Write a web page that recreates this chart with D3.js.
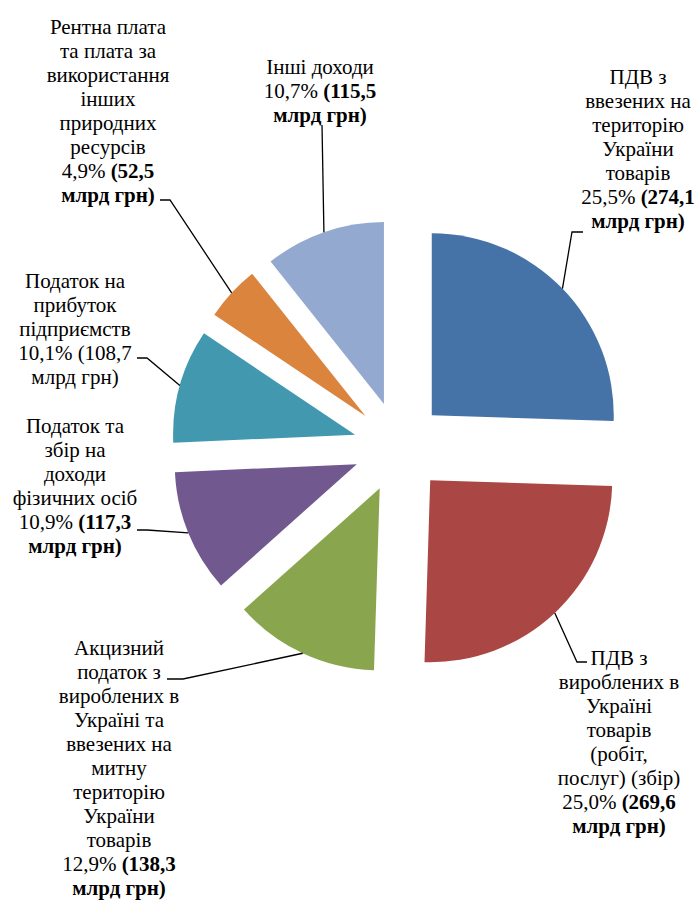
<!DOCTYPE html>
<html>
<head>
<meta charset="utf-8">
<script src="https://cdn.jsdelivr.net/npm/d3@7"></script>
<style>
  body { margin: 0; background: #fff; }
</style>
</head>
<body>
<svg id="chart" width="696" height="904"></svg>
<script>
// categories, clockwise from 12 o'clock
const names = [
  ['ПДВ з', 'ввезених на', 'територію', 'України', 'товарів'],
  ['ПДВ з', 'вироблених в', 'Україні', 'товарів', '(робіт,', 'послуг) (збір)'],
  ['Акцизний', 'податок з', 'вироблених в', 'Україні та', 'ввезених на', 'митну', 'територію', 'України', 'товарів'],
  ['Податок та', 'збір на', 'доходи', 'фізичних осіб'],
  ['Податок на', 'прибуток', 'підприємств'],
  ['Рентна плата', 'та плата за', 'використання', 'інших', 'природних', 'ресурсів'],
  ['Інші доходи']
];
const shares = [25.5, 25.0, 12.9, 10.9, 10.1, 4.9, 10.7];   // %
const amounts = [274.1, 269.6, 138.3, 117.3, 108.7, 52.5, 115.5]; // млрд грн
const boldAmount = [true, true, true, true, false, true, true];
const colors = ['#4573a7', '#aa4643', '#89a54e', '#71588f', '#4198af', '#db843d', '#93a9cf'];

// label placement: centre x, first-line middle y, leader elbow
const labelPos = [
  { x: 638, y: 77, elbow: [[583, 232], [572, 232]] },
  { x: 619, y: 658, elbow: [[587, 662], [577, 662]] },
  { x: 119, y: 648, elbow: [[167, 679], [183, 679]] },
  { x: 75, y: 426, elbow: [[137, 530], [147, 530]] },
  { x: 75, y: 281, elbow: [[137, 358], [147, 358]] },
  { x: 108, y: 27, elbow: [[160, 200], [170, 200]] },
  { x: 320, y: 67, elbow: [[322, 125]] }
];

const svg = d3.select('#chart')
  .attr('font-family', "'Liberation Serif', 'Times New Roman', Times, serif")
  .attr('font-size', 21);
const c = { x: 399, y: 447 };
const r = 182;
const explode = 45.6;
const lh = 24;

const fmt = v => d3.format('.1f')(v).replace('.', ',');

const pie = d3.pie().sort(null).value(d => d.share);
const arc = d3.arc().innerRadius(0).outerRadius(r);

const data = names.map((n, i) => ({
  lines: n, share: shares[i], amount: amounts[i], bold: boldAmount[i],
  color: colors[i], pos: labelPos[i]
}));
const arcs = pie(data);

function offset(a) {
  const m = (a.startAngle + a.endAngle) / 2;
  return [explode * Math.sin(m), -explode * Math.cos(m)];
}

const g = svg.append('g').attr('transform', `translate(${c.x},${c.y})`);

g.selectAll('path.slice')
  .data(arcs)
  .enter()
  .append('path')
  .attr('class', 'slice')
  .attr('fill', a => a.data.color)
  .attr('transform', a => `translate(${offset(a)})`)
  .attr('d', arc);

// leader lines: from label elbow to the outer arc at mid angle
svg.selectAll('polyline.leader')
  .data(arcs)
  .enter()
  .append('polyline')
  .attr('class', 'leader')
  .attr('fill', 'none')
  .attr('stroke', '#000')
  .attr('stroke-width', 1.3)
  .attr('points', (a) => {
    const m = (a.startAngle + a.endAngle) / 2;
    const [ox, oy] = offset(a);
    const end = [c.x + ox + r * Math.sin(m), c.y + oy - r * Math.cos(m)];
    return a.data.pos.elbow.concat([end]).map(p => p.join(',')).join(' ');
  });

// labels
arcs.forEach((a) => {
  const d = a.data;
  const t = svg.append('text').attr('text-anchor', 'middle').attr('fill', '#000');
  const base = d.pos.y + 7;
  d.lines.forEach((ln, j) => {
    t.append('tspan').attr('x', d.pos.x).attr('y', base + j * lh).text(ln);
  });
  const n = d.lines.length;
  const vl = t.append('tspan').attr('x', d.pos.x).attr('y', base + n * lh);
  vl.append('tspan').text(`${fmt(d.share)}% `);
  vl.append('tspan').attr('font-weight', d.bold ? 'bold' : null).text(`(${fmt(d.amount)}`);
  t.append('tspan').attr('x', d.pos.x).attr('y', base + (n + 1) * lh)
    .attr('font-weight', d.bold ? 'bold' : null)
    .text('млрд грн)');
});
</script>
</body>
</html>
